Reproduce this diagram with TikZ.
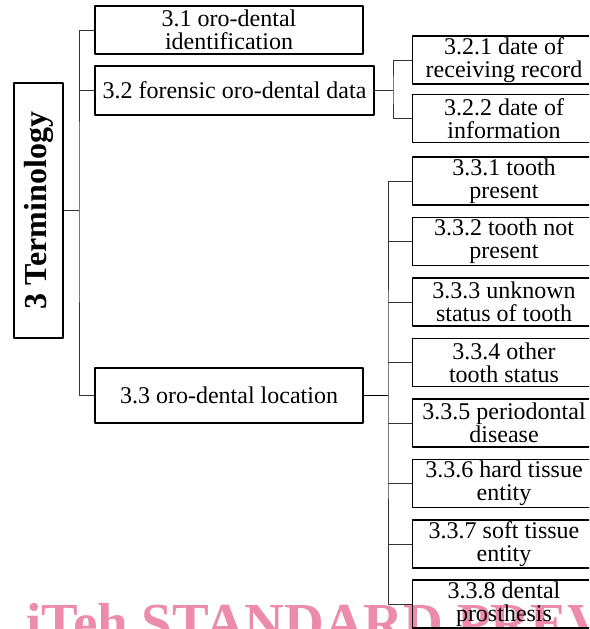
\documentclass[tikz,border=0pt]{standalone}
\usepackage{fontspec}
\setmainfont{Liberation Serif}
\definecolor{wmpink}{RGB}{236,140,170}
\begin{document}
\begin{tikzpicture}[x=1pt, y=-1pt, line join=round,
		box/.style={draw, line width=1.5pt, align=center, inner sep=0pt, font=\fontsize{24}{23}\selectfont},
		leaf/.style={box, minimum width=183, minimum height=48},
		wire/.style={line width=0.9pt, color=black!80}]
			\useasboundingbox (0,0) rectangle (589,629);
			\clip (0,0) rectangle (589,629);
			
			\node[anchor=base west, inner sep=0pt, text=wmpink, font=\fontsize{55}{55}\selectfont\bfseries] (wm) at (26,641) {iTeh STANDARD PREVIEW};
			
			\node[box, rotate=90, minimum width=255, minimum height=49, font=\fontsize{32}{32}\selectfont\bfseries] (term) at (38.5,210.5) {3 Terminology};
			
			\node[box, minimum width=268, minimum height=48] (c31) at (229,30) {3.1 oro-dental\\identification};
			\node[box, line width=2pt, minimum width=279, minimum height=49] (c32) at (234.5,90.5) {3.2 forensic oro-dental data};
			\node[box, minimum width=268, minimum height=55] (c33) at (229,395.5) {3.3 oro-dental location};
			
			\node[leaf] (c321) at (504,60) {3.2.1 date of\\receiving record};
			\node[leaf] (c322) at (504,118.5) {3.2.2 date of\\information};
			
			\node[leaf] (c331) at (504,181) {3.3.1 tooth\\present};
			\node[leaf] (c332) at (504,241.5) {3.3.2 tooth not\\present};
			\node[leaf] (c333) at (504,302) {3.3.3 unknown\\status of tooth};
			\node[leaf] (c334) at (504,362.5) {3.3.4 other\\tooth status};
			\node[leaf] (c335) at (504,423) {3.3.5 periodontal\\disease};
			\node[leaf] (c336) at (504,483.5) {3.3.6 hard tissue\\entity};
			\node[leaf] (c337) at (504,544) {3.3.7 soft tissue\\entity};
			\node[leaf] (c338) at (504,604) {3.3.8 dental\\prosthesis};
			
			\coordinate (ta) at (79,211);
			\coordinate (tb) at (393,90.5);
			\coordinate (tc) at (388,395.5);
			
			\draw[wire] (c31.west) -| (ta) |- (c33.west);
			\draw[wire] (term.south) -- (term.south -| ta);
			\draw[wire] (c32.west) -- (c32.west -| ta);
			
			\draw[wire] (c32.east) -- (tb);
			\draw[wire] (c321.west) -| (tb) |- (c322.west);
			
			\draw[wire, line width=1.5pt, color=black] (c33.east) -- (tc);
			\draw[wire] (c331.west) -| (tc) |- (c338.west);
			\foreach \n in {2,...,7}
				\draw[wire] (c33\n.west) -- (c33\n.west -| tc);
		\end{tikzpicture}
\end{document}
